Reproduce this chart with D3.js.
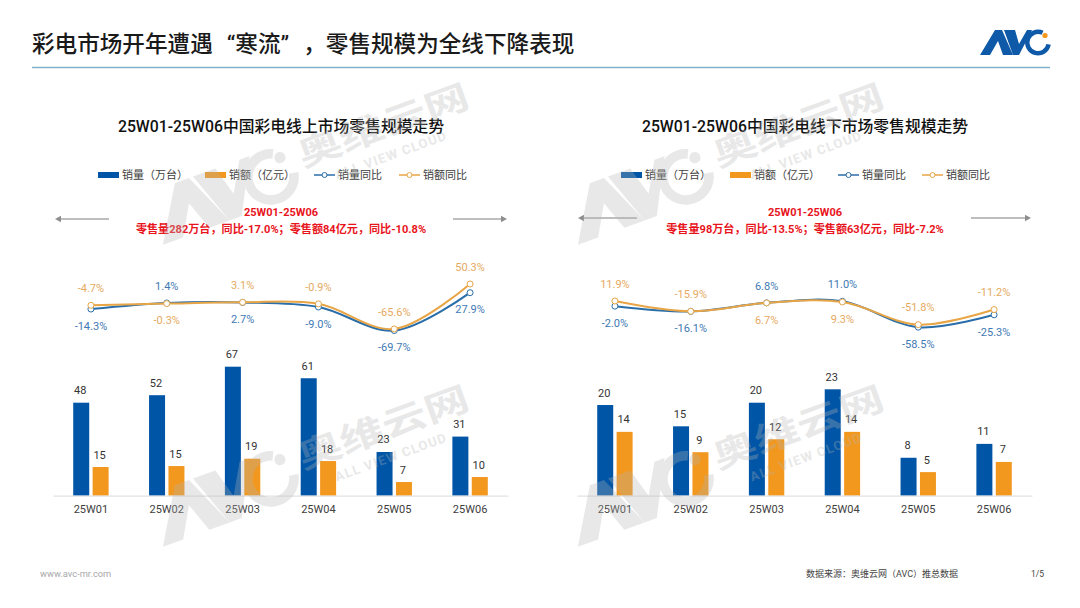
<!DOCTYPE html>
<html lang="zh-CN">
<head>
<meta charset="utf-8">
<script src="https://cdn.jsdelivr.net/npm/d3@7"></script>
<style>
html, body { margin: 0; background: #fff; }
svg { display: block; }
text { font-family: Roboto, "Noto Sans CJK SC", sans-serif; }
</style>
</head>
<body>
<svg id="chart" width="1080" height="608"></svg>
<script>
var WEEKS = ['25W01', '25W02', '25W03', '25W04', '25W05', '25W06'];

var onlineVolume = [48.3, 52.2, 67, 61, 22.7, 30.7];
var onlineValue = [14.9, 15.4, 19.2, 18, 7.1, 9.7];
var onlineVolumeYoy = [-14.3, 1.4, 2.7, -9.0, -69.7, 27.9];
var onlineValueYoy = [-4.7, -0.3, 3.1, -0.9, -65.6, 50.3];

var offlineVolume = [19.6, 15, 20.1, 23, 8.2, 11.2];
var offlineValue = [13.8, 9.4, 12.2, 13.8, 5.1, 7.3];
var offlineVolumeYoy = [-2.0, -16.1, 6.8, 11.0, -58.5, -25.3];
var offlineValueYoy = [11.9, -15.9, 6.7, 9.3, -51.8, -11.2];

var BLUE = '#0055a6', ORANGE = '#f2981f';
var BLUE_LINE = '#2a6ea9', ORANGE_LINE = '#e8a546';
var BLUE_TEXT = '#3f7ab4', ORANGE_TEXT = '#e6aa62';
var RED = '#e8141c';
var MARK_GRAY = '#b5b5b5';

var svg = d3.select('#chart');

var drawPanel = function(p) {
	var g = svg.append('g');

	g.append('text')
		.attr('x', p.center).attr('y', 132)
		.attr('text-anchor', 'middle')
		.attr('font-size', 15.8).attr('font-weight', 500).attr('fill', '#111')
		.text(p.title);

	// legend
	var legendY = 175;
	[[p.legend[0], BLUE], [p.legend[1], ORANGE]].forEach(function(d, i) {
		g.append('rect')
			.attr('x', d[0]).attr('y', legendY - 3).attr('width', 21).attr('height', 6)
			.attr('fill', d[1]);
		g.append('text')
			.attr('x', d[0] + 24).attr('y', legendY + 4)
			.attr('font-size', 11).attr('fill', '#404040')
			.text(['销量（万台）', '销额（亿元）'][i]);
	});
	[[p.legend[2], BLUE_LINE], [p.legend[3], ORANGE_LINE]].forEach(function(d, i) {
		g.append('line')
			.attr('x1', d[0]).attr('x2', d[0] + 21)
			.attr('y1', legendY).attr('y2', legendY)
			.attr('stroke', d[1]).attr('stroke-width', 1.5);
		g.append('circle')
			.attr('cx', d[0] + 10.5).attr('cy', legendY).attr('r', 2.5)
			.attr('fill', '#fff').attr('stroke', d[1]);
		g.append('text')
			.attr('x', d[0] + 24).attr('y', legendY + 4)
			.attr('font-size', 11).attr('fill', '#404040')
			.text(['销量同比', '销额同比'][i]);
	});

	// summary
	g.append('text')
		.attr('x', p.center).attr('y', 215.8)
		.attr('text-anchor', 'middle')
		.attr('font-family', 'Inter, "Noto Sans CJK SC", sans-serif')
		.attr('font-size', 11).attr('font-weight', 700).attr('fill', RED)
		.text('25W01-25W06');
	g.append('text')
		.attr('x', p.center).attr('y', 232.8)
		.attr('text-anchor', 'middle')
		.attr('font-family', 'Inter, "Noto Sans CJK SC", sans-serif')
		.attr('font-size', 11.1).attr('font-weight', 700).attr('fill', RED)
		.text(p.summary);

	// arrows
	p.arrows.forEach(function(a) {
		var dir = a[1] > a[0] ? 1 : -1;
		g.append('line')
			.attr('x1', a[0]).attr('x2', a[1] - dir * 5)
			.attr('y1', a[2]).attr('y2', a[2])
			.attr('stroke', '#a8a8a8').attr('stroke-width', 1.4);
		g.append('path')
			.attr('d', 'M' + a[1] + ',' + a[2] + 'l' + (-dir * 6) + ',-3.2v6.4z')
			.attr('fill', '#8e8e8e');
	});

	var x = d3.scaleBand().domain(WEEKS).range(p.xRange);
	var half = 17.7;
	var x1 = d3.scaleBand().domain([0, 1]).range([-half, half]).paddingInner(0.175);
	var y = d3.scaleLinear().domain([0, p.maxBar]).range([495.7, p.maxBarTop]);
	var yLine = d3.scaleLinear().domain([0, 50]).range([p.zeroY, p.zeroY - 50 * p.lineScale]);
	var center = function(i) { return x(WEEKS[i]) + x.bandwidth() / 2; };

	// bars
	[[p.volume, BLUE], [p.value, ORANGE]].forEach(function(s, k) {
		var bars = g.append('g');
		bars.selectAll('rect')
			.data(s[0])
			.enter()
			.append('rect')
			.attr('x', function(d, i) { return center(i) + x1(k); })
			.attr('y', function(d) { return y(d); })
			.attr('width', x1.bandwidth())
			.attr('height', function(d) { return y(0) - y(d); })
			.attr('fill', s[1]);
		bars.selectAll('text')
			.data(s[0])
			.enter()
			.append('text')
			.attr('x', function(d, i) { return center(i) + x1(k) + x1.bandwidth() / 2 - 1; })
			.attr('y', function(d) { return y(d) - 8.5; })
			.attr('text-anchor', 'middle')
			.attr('font-size', 11).attr('fill', '#333')
			.text(d3.format('.0f'));
	});

	// axis
	var axis = g.append('g')
		.attr('transform', 'translate(0,495.7)')
		.call(d3.axisBottom(x).tickSize(0).tickPadding(10));
	axis.select('.domain').attr('stroke', '#e2e2e2').attr('stroke-width', 1.2);
	axis.selectAll('text')
		.attr('font-family', 'Roboto, "Noto Sans CJK SC", sans-serif')
		.attr('font-size', 11).attr('fill', '#404040');

	// yoy lines
	var line = d3.line()
		.x(function(d, i) { return center(i); })
		.y(function(d) { return yLine(d); })
		.curve(d3.curveCatmullRom.alpha(0.5));

	[
		[p.volumeYoy, BLUE_LINE, BLUE_TEXT, p.volumeSide],
		[p.valueYoy, ORANGE_LINE, ORANGE_TEXT, p.valueSide]
	].forEach(function(s) {
		var l = g.append('g');
		l.append('path')
			.attr('d', line(s[0]))
			.attr('fill', 'none').attr('stroke', s[1]).attr('stroke-width', 2);
		l.selectAll('circle')
			.data(s[0])
			.enter()
			.append('circle')
			.attr('cx', function(d, i) { return center(i); })
			.attr('cy', function(d) { return yLine(d); })
			.attr('r', 3)
			.attr('fill', '#fff').attr('stroke', s[1]).attr('stroke-width', 1);
		l.selectAll('text')
			.data(s[0])
			.enter()
			.append('text')
			.attr('x', function(d, i) { return center(i); })
			.attr('y', function(d, i) { return yLine(d) + s[3][i] * 17 + 3.8; })
			.attr('text-anchor', 'middle')
			.attr('font-size', 11).attr('fill', s[2])
			.text(function(d) { return d.toFixed(1) + '%'; });
	});
};

// the AVC mark, 70 wide and 25 high
var drawLogo = function(g, dot) {
	g.append('path')
		.attr('d', 'M0,25L15,0H22L33,25H23L18,11L10,25Z')
		.attr('fill', dot ? '#0f5aa8' : 'currentColor');
	g.append('path')
		.attr('d', 'M24,0H35L39,14L47,0H52L39,25H33Z')
		.attr('fill', dot ? '#0f5aa8' : 'currentColor');
	g.append('path')
		.attr('transform', 'translate(58,12.5)')
		.attr('d', d3.arc()({
			innerRadius: 8.5, outerRadius: 13,
			startAngle: 100 * Math.PI / 180, endAngle: 385 * Math.PI / 180
		}))
		.attr('fill', dot ? '#0f5aa8' : 'currentColor');
	g.append('circle')
		.attr('cx', 65).attr('cy', 5.5).attr('r', 2.6)
		.attr('fill', dot ? '#f2981f' : 'currentColor');
};

var drawWatermark = function(px, py) {
	var g = svg.append('g')
		.attr('transform', 'translate(' + px + ',' + py + ') rotate(-20)')
		.attr('opacity', 0.3)
		.style('color', MARK_GRAY);
	drawLogo(g.append('g').attr('transform', 'translate(0,-54) scale(2.15)'), false);
	g.append('text')
		.attr('transform', 'translate(158,-25) scale(1.32,1)')
		.attr('font-size', 34).attr('font-weight', 700).attr('fill', MARK_GRAY)
		.text('奥维云网');
	g.append('text')
		.attr('x', 186).attr('y', -2)
		.attr('font-family', 'Inter, sans-serif')
		.attr('font-size', 13).attr('font-weight', 700).attr('letter-spacing', 1.2).attr('fill', MARK_GRAY)
		.text('ALL VIEW CLOUD');
};

// page head, the quotes and comma are set wide as in a full-width font
var head = svg.append('text')
	.attr('x', 32).attr('y', 52)
	.attr('font-family', '"Noto Sans CJK SC", sans-serif')
	.attr('font-size', 22.6).attr('font-weight', 500).attr('fill', '#1a1a1a');
head.append('tspan').text('彩电市场开年遭遇');
head.append('tspan').attr('dx', 14).text('“寒流”');
head.append('tspan').attr('dx', 14).text('，零售规模为全线下降表现');
svg.append('line')
	.attr('x1', 32).attr('x2', 1050).attr('y1', 67.5).attr('y2', 67.5)
	.attr('stroke', '#7fb2cc').attr('stroke-width', 1.5);
drawLogo(svg.append('g').attr('transform', 'translate(980,30)'), true);

drawPanel({
	title: '25W01-25W06中国彩电线上市场零售规模走势',
	summary: '零售量282万台，同比-17.0%；零售额84亿元，同比-10.8%',
	center: 281,
	legend: [98, 205, 314, 399],
	arrows: [[109, 55, 219], [453, 507, 219]],
	xRange: [53, 508],
	volume: onlineVolume, value: onlineValue,
	volumeYoy: onlineVolumeYoy, valueYoy: onlineValueYoy,
	volumeSide: [1, -1, 1, 1, 1, 1],
	valueSide: [-1, 1, -1, -1, -1, -1],
	maxBar: 67, maxBarTop: 366.7,
	zeroY: 303.5, lineScale: 0.388
});

drawPanel({
	title: '25W01-25W06中国彩电线下市场零售规模走势',
	summary: '零售量98万台，同比-13.5%；零售额63亿元，同比-7.2%',
	center: 805,
	legend: [621, 730, 838, 922],
	arrows: [[637, 578, 218], [971, 1031, 218]],
	xRange: [577, 1032],
	volume: offlineVolume, value: offlineValue,
	volumeYoy: offlineVolumeYoy, valueYoy: offlineValueYoy,
	volumeSide: [1, 1, -1, -1, 1, 1],
	valueSide: [-1, -1, 1, 1, -1, -1],
	maxBar: 23, maxBarTop: 389.3,
	zeroY: 305.4, lineScale: 0.372
});

[[163, 245], [578, 245], [163, 547], [578, 547]].forEach(function(d) {
	drawWatermark(d[0], d[1]);
});

// footer
svg.append('text')
	.attr('x', 40).attr('y', 577)
	.attr('font-size', 9.3).attr('fill', '#a8a8a8')
	.text('www.avc-mr.com');
svg.append('text')
	.attr('x', 806).attr('y', 577)
	.attr('font-size', 9).attr('fill', '#444')
	.text('数据来源：奥维云网（AVC）推总数据');
svg.append('text')
	.attr('x', 1031).attr('y', 577)
	.attr('font-size', 8.5).attr('fill', '#444')
	.text('1/5');
</script>
</body>
</html>
